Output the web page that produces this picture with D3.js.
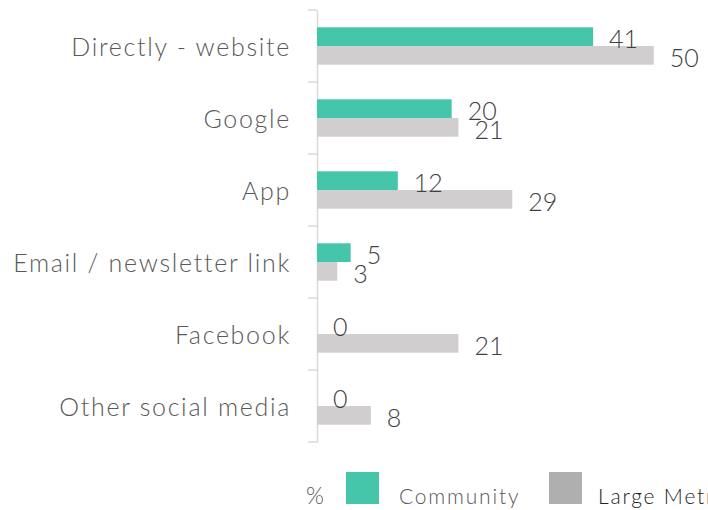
<!DOCTYPE html>
<html><head><meta charset="utf-8">
<script src="https://cdn.jsdelivr.net/npm/d3@7/dist/d3.min.js"></script>
<style>
html,body{margin:0;padding:0;background:#fff;}
svg{display:block;font-family:Lato,"Noto Sans",sans-serif;font-weight:300;}
</style></head>
<body><svg id="chart" width="708" height="510"></svg>
<script>
const categories = ["Directly - website","Google","App","Email / newsletter link","Facebook","Other social media"];
const seriesNames = ["Community","Large Metro"];
const community = [41,20,12,5,0,0];
const largeMetro = [50,21,29,3,21,8];
const colors = ["#45C6AA","#D0CECE"];
const legendColors = ["#45C6AA","#AFAFAF"];

const svg = d3.select("#chart");
const x = d3.scaleLinear().domain([0,50]).range([317,653.7]);
const y = d3.scaleBand().domain(categories).range([10,442]).paddingInner(0).paddingOuter(0);
const sub = d3.scaleBand().domain(seriesNames).range([0,y.bandwidth()]).paddingInner(0).paddingOuter(0.925);

const data = categories.map((c,i)=>({cat:c, vals:[community[i], largeMetro[i]]}));

// axis
const axis = d3.axisLeft(y).tickSize(0).tickFormat("");
const gAxis = svg.append("g").attr("transform",`translate(${x(0)},0)`).call(axis);
gAxis.select(".domain").attr("stroke","#D9D9D9").attr("stroke-width",1.5);
const bounds = categories.map(c=>y(c)).concat([y.range()[1]]);
svg.append("g").selectAll("line").data(bounds).join("line")
  .attr("x1",x(0)-9).attr("x2",x(0)).attr("y1",d=>d).attr("y2",d=>d)
  .attr("stroke","#D9D9D9").attr("stroke-width",1.5);

// category labels
svg.append("g").selectAll("text").data(categories).join("text")
  .attr("x",291).attr("y",d=>y(d)+y.bandwidth()/2)
  .attr("text-anchor","end").attr("dominant-baseline","central")
  .attr("fill","#595959").style("font-size","25px").style("letter-spacing","1.7px").text(d=>d);

// bars
const groups = svg.append("g").selectAll("g").data(data).join("g")
  .attr("transform",d=>`translate(0,${y(d.cat)})`);
groups.selectAll("rect").data(d=>d.vals.map((v,j)=>({v,s:seriesNames[j],j}))).join("rect")
  .attr("x",x(0)).attr("y",d=>sub(d.s)).attr("height",sub.bandwidth())
  .attr("width",d=>x(d.v)-x(0)).attr("fill",d=>colors[d.j]);
groups.selectAll("text").data(d=>d.vals.map((v,j)=>({v,s:seriesNames[j],j}))).join("text")
  .attr("x",d=>x(d.v)+16).attr("y",d=>sub(d.s)+sub.bandwidth()/2+1.5)
  .attr("dominant-baseline","central").attr("fill","#404040")
  .style("font-size","25px").text(d=>d.v);

// legend
const lg = svg.append("g");
lg.append("text").attr("x",306).attr("y",504).attr("fill","#595959").style("font-size","23px").text("%");
const items = [{n:seriesNames[0],rx:346,tx:399,tc:"#595959"},{n:seriesNames[1],rx:549,tx:598,tc:"#222222"}];
items.forEach((it,i)=>{
  lg.append("rect").attr("x",it.rx).attr("y",472).attr("width",33).attr("height",32).attr("fill",legendColors[i]);
  lg.append("text").attr("x",it.tx).attr("y",504).attr("fill",it.tc).style("font-size","21px").style("letter-spacing","1.8px").text(it.n);
});
</script></body></html>
